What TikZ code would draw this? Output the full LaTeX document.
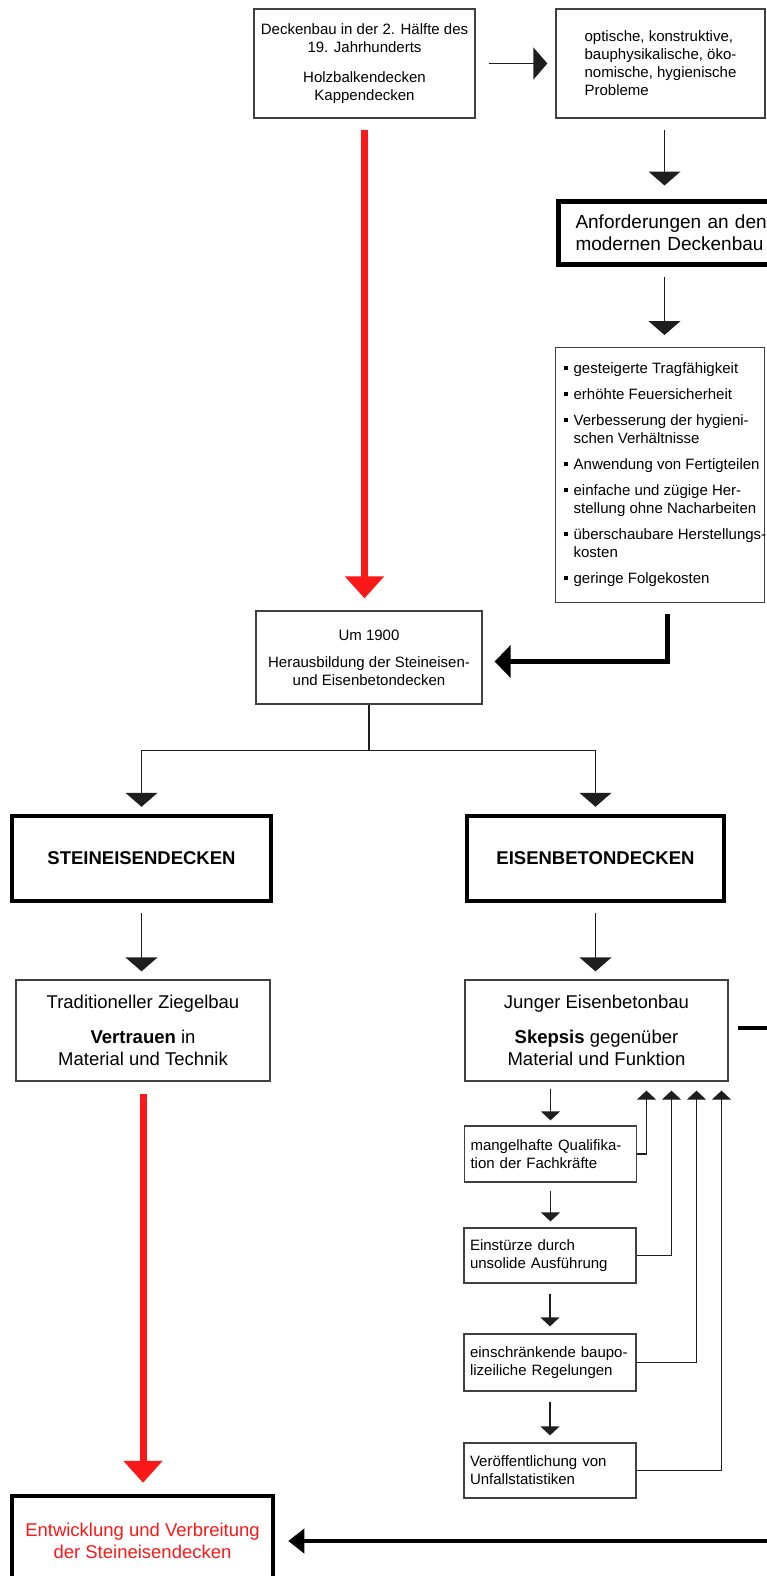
\documentclass[tikz,border=0pt]{standalone}
\usepackage{fontspec}
\setmainfont{Liberation Sans}
\usetikzlibrary{arrows.meta}
\usetikzlibrary{positioning}
\usetikzlibrary{calc}
\definecolor{boxgray}{RGB}{64,64,64}
\definecolor{linegray}{RGB}{30,30,30}
\definecolor{arrowred}{RGB}{250,24,24}
\newcommand{\smallfont}{\fontsize{15}{18}\selectfont}
\newcommand{\midfont}{\fontsize{18.5}{22}\selectfont}
\newcommand{\bigfont}{\fontsize{19}{22}\selectfont}
\newcommand{\bul}{\raisebox{3.5pt}{\rule{4pt}{4pt}}}
\tikzstyle{box} = [draw=boxgray, line width=1.3pt, align=center, font=\smallfont]
\tikzstyle{thickbox} = [draw=black, line width=4.5pt, align=center]
\tikzstyle{conn} = [draw=linegray, line width=1.3pt]
\tikzstyle{bigtip} = [-{Triangle[width=32pt,length=14pt]}]
\tikzstyle{smalltip} = [-{Triangle[width=19pt,length=9pt]}]

\begin{document}
\begin{tikzpicture}[x=1pt, y=-1pt,
        colbox/.style={box, align=left, text width=160pt, inner xsep=6pt},
        redarrow/.style={draw=arrowred, line width=7pt,
            -{Triangle[width=38pt,length=22pt]}},
        thickarrow/.style={draw=black, line width=5pt,
            -{Triangle[width=32pt,length=16pt]}}]
        \fill [white] (0,0) rectangle (766,1576);
        \useasboundingbox (0,0) rectangle (766,1576);
        %% Boxes
        \node [box, minimum width=221pt, minimum height=109pt] at (364.5,63.5) (deck)
            {Deckenbau in der 2. Hälfte des\\19. Jahrhunderts\\[12pt]Holzbalkendecken\\Kappendecken};
        \node [box, align=left, minimum width=209pt, minimum height=109pt] at (660.5,63.5) (prob)
            {optische, konstruktive,\\bauphysikalische, öko-\\nomische, hygienische\\Probleme};
        \node [thickbox, line width=5pt, anchor=west, align=left, font=\bigfont,
            text width=200pt, inner xsep=17pt, minimum height=63pt] at (556,232.5) (anf)
            {Anforderungen an den\\modernen Deckenbau};
        \node [box, anchor=north west, minimum height=255pt, inner xsep=8pt] at (555,347) (list)
            {\makebox[193pt][l]{\begin{tabular}{@{}l@{\hspace{6pt}}l@{}}
            \bul & gesteigerte Tragfähigkeit\\[8pt]
            \bul & erhöhte Feuersicherheit\\[8pt]
            \bul & Verbesserung der hygieni-\\
                 & schen Verhältnisse\\[8pt]
            \bul & Anwendung von Fertigteilen\\[8pt]
            \bul & einfache und zügige Her-\\
                 & stellung ohne Nacharbeiten\\[8pt]
            \bul & überschaubare Herstellungs-\\
                 & kosten\\[8pt]
            \bul & geringe Folgekosten
            \end{tabular}}};
        \node [box, minimum width=226pt, minimum height=93pt] at (369,657.5) (um)
            {Um 1900\\[9pt]Herausbildung der Steineisen-\\und Eisenbetondecken};
        \node [thickbox, font=\fontsize{18.5}{22}\selectfont\bfseries,
            minimum width=259pt, minimum height=85pt] at (141.5,858.5) (stein) {STEINEISENDECKEN};
        \node [thickbox, font=\fontsize{18.5}{22}\selectfont\bfseries,
            minimum width=257pt, minimum height=85pt] at (595.5,858.5) (eisen) {EISENBETONDECKEN};
        \node [box, font=\midfont, minimum width=254pt, minimum height=101pt] at (143,1030.5) (trad)
            {Traditioneller Ziegelbau\\[13pt]\textbf{Vertrauen} in\\Material und Technik};
        \node [box, font=\midfont, minimum width=263pt, minimum height=101pt] at (596.5,1030.5) (junger)
            {Junger Eisenbetonbau\\[13pt]\textbf{Skepsis} gegenüber\\Material und Funktion};
        \node [colbox, minimum height=56pt] at (550.5,1154) (mang)
            {mangelhafte Qualifika-\\tion der Fachkräfte};
        \node [colbox, minimum height=55pt] at (550,1255.5) (einst)
            {Einstürze durch\\unsolide Ausführung};
        \node [colbox, minimum height=57pt] at (550,1362.5) (einschr)
            {einschränkende baupo-\\lizeiliche Regelungen};
        \node [colbox, minimum height=55pt] at (550,1470.5) (veroeff)
            {Veröffentlichung von\\Unfallstatistiken};
        \node [thickbox, font=\midfont, text=arrowred,
            minimum width=261pt, minimum height=90pt] at (142.5,1541) (entw)
            {Entwicklung und Verbreitung\\der Steineisendecken};
        \coordinate (probdown) at ($(prob.south)+(4,0)$);
        \coordinate (listdown) at ($(list.south)+(7,0)$);
        \coordinate (umright) at ($(um.east)+(0,4)$);
        \coordinate (fork) at ($(um.south)+(0,46)$);
        \coordinate (offA) at (780,1028);
        \coordinate (offB) at (780,1541);
        %% Arrows
        \draw [conn, bigtip, shorten <=13pt, shorten >=8pt] (deck.east) -- (prob.west);
        \draw [conn, bigtip, shorten <=11pt, shorten >=13pt] (probdown) -- (probdown |- anf.north);
        \draw [conn, bigtip, shorten <=10pt, shorten >=12pt] (probdown |- anf.south) -- (probdown |- list.north);
        \draw [redarrow, shorten <=11pt, shorten >=12pt] (deck.south) -- (deck.south |- um.north);
        \draw [thickarrow, shorten <=11pt, shorten >=12pt] (listdown) |- (umright);
        \draw [conn] (um.south) -- (fork);
        \draw [conn, bigtip, shorten >=7pt] (fork) -| (stein.north);
        \draw [conn, bigtip, shorten >=7pt] (fork) -| (eisen.north);
        \draw [conn, bigtip, shorten <=10pt, shorten >=8pt] (stein.south) -- (stein.south |- trad.north);
        \draw [conn, bigtip, shorten <=10pt, shorten >=8pt] (eisen.south) -- (eisen.south |- junger.north);
        \draw [redarrow, shorten <=12pt, shorten >=11pt] (trad.south) -- (trad.south |- entw.north);
        \draw [draw=black, line width=4.5pt, shorten <=9pt] (junger.east |- offA) -- (offA);
        \draw [draw=black, line width=4.5pt, -{Triangle[width=24pt,length=16pt]}, shorten >=13pt]
            (offB) -- (entw.east);
        \draw [conn, smalltip, shorten <=7pt, shorten >=5pt] (mang.north |- junger.south) -- (mang.north);
        \draw [conn, smalltip, shorten <=8pt, shorten >=6pt] (mang.south) -- (mang.south |- einst.north);
        \draw [conn, smalltip, shorten <=10pt, shorten >=7pt] (einst.south) -- (einst.south |- einschr.north);
        \draw [conn, smalltip, shorten <=10pt, shorten >=7pt] (einschr.south) -- (einschr.south |- veroeff.north);
        \foreach \n/\dx in {mang/50, einst/75, einschr/100, veroeff/125}
            \draw [conn, smalltip] (\n.east) -| ($(junger.south)+(\dx,9)$);
\end{tikzpicture}
\end{document}
